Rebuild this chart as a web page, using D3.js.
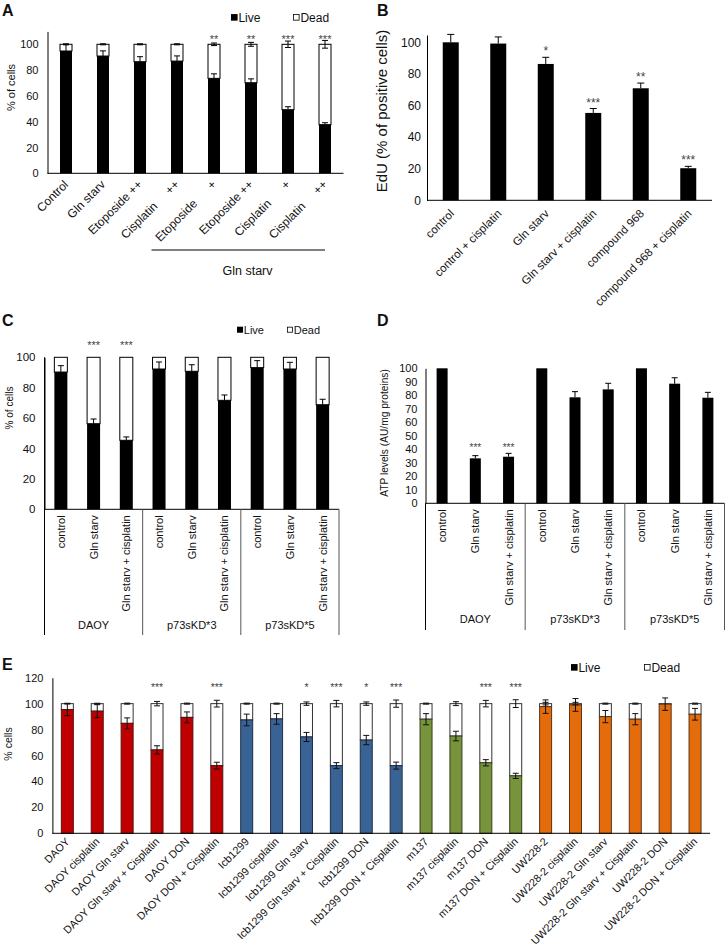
<!DOCTYPE html>
<html><head><meta charset="utf-8">
<script src="https://cdn.jsdelivr.net/npm/d3@7"></script>
<style>
body{margin:0;background:#fff;}
svg text{font-family:"Liberation Sans",Arial,Helvetica,sans-serif;fill:#111;}
svg text.star{fill:#444;}
</style></head><body>
<script>
// ---------- DATA ----------
// Panel A
const aCategories = ["Control","Gln starv","Etoposide ++","Cisplatin     ++","Etoposide      +","Etoposide ++","Cisplatin      +","Cisplatin     ++"];
const aLive = [94.8,90.9,86.5,87,73.6,70.2,49.3,37.7];
const aLiveErr = [5,4,3.9,4,3.5,3,2.3,1.5];
const aDeadErr = [0.4,0.4,0.4,0.4,1,1.5,2.5,3];
const aStars = ["","","","","**","**","***","***"];
const aGroupLabel = "Gln starv";
const aLegend = ["Live","Dead"];
const aTicks = [0,20,40,60,80,100];

// Panel B
const bCategories = ["control","control + cisplatin","Gln starv","Gln starv + cisplatin","compound 968","compound 968 + cisplatin"];
const bValues = [100,99.2,86.3,55.3,70.9,20.3];
const bErr = [5,4.2,4.2,2.8,3.3,1.2];
const bStars = ["","","*","***","**","***"];
const bTicks = [0,20,40,60,80,100];

// Panel C
const cCategories = ["control","Gln starv","Gln starv + cisplatin","control","Gln starv","Gln starv + cisplatin","control","Gln starv","Gln starv + cisplatin"];
const cGroups = ["DAOY","p73sKD*3","p73sKD*5"];
const cLive = [90.3,56.3,45.4,92.3,90.8,71.7,93.2,92.3,68.8];
const cLiveErr = [4.2,3.1,2.2,4.6,4.3,3.5,4.6,4.4,3.6];
const cStars = ["","***","***","","","","","",""];
const cTicks = [0,20,40,60,80,100];

// Panel D
const dCategories = ["control","Gln starv","Gln starv + cisplatin","control","Gln starv","Gln starv + cisplatin","control","Gln starv","Gln starv + cisplatin"];
const dGroups = ["DAOY","p73sKD*3","p73sKD*5"];
const dValues = [100,33.3,34.5,100,78.5,84.4,100,88.6,78.2];
const dErr = [0,2,2.5,0,4.2,4.5,0,4.4,4];
const dStars = ["","***","***","","","","","",""];
const dTicks = [0,10,20,30,40,50,60,70,80,90,100];

// Panel E
const eCategories = ["DAOY","DAOY cisplatin","DAOY Gln starv","DAOY Gln starv + Cisplatin","DAOY DON","DAOY DON + Cisplatin",
  "Icb1299","Icb1299 cisplatin","Icb1299 Gln starv","Icb1299 Gln starv + Cisplatin","Icb1299 DON","Icb1299 DON + Cisplatin",
  "m137","m137 cisplatin","m137 DON","m137 DON + Cisplatin",
  "UW228-2","UW228-2 cisplatin","UW228-2 Gln starv","UW228-2 Gln starv + Cisplatin","UW228-2 DON","UW228-2 DON + Cisplatin"];
const eCellLine = ["DAOY","DAOY","DAOY","DAOY","DAOY","DAOY","Icb1299","Icb1299","Icb1299","Icb1299","Icb1299","Icb1299",
  "m137","m137","m137","m137","UW228-2","UW228-2","UW228-2","UW228-2","UW228-2","UW228-2"];
const eLive = [95.4,94.2,84.8,64.3,89.4,52.2,87.4,88.2,74.3,52.2,71.9,52.2,88,75,54.4,44.3,97.7,99,90,88,99.6,91.8];
const eLiveErr = [4.7,5,4.2,3.2,4.2,2.6,4.5,4.1,3.5,2.3,3.6,2.7,4.3,3.7,2.4,2,5.2,4.9,4.7,4.3,4.8,4.5];
const eDeadErr = [0.3,0.3,0.4,1.7,0.4,2.6,0.4,0.4,1.3,2.5,1.3,2.8,0.4,1.5,2.5,3,1,1,0.4,0.4,0,0.4];
const eStars = ["","","","***","","***","","","*","***","*","***","","","***","***","","","","","",""];
const eTicks = [0,20,40,60,80,100,120];

// ---------- STYLE ----------
const lineColors = {"DAOY":"#C00000","Icb1299":"#3A6395","m137":"#77933C","UW228-2":"#E46C0A"};
const lineStrokes = {"DAOY":"#5a1010","Icb1299":"#1f2f45","m137":"#33401c","UW228-2":"#5a3418"};

const svg = d3.select("body").append("svg").attr("width",725).attr("height",950);

function panelLabel(t,x,y){
  svg.append("text").attr("x",x).attr("y",y).attr("font-size",16).attr("font-weight","bold").text(t);
}
function yAxis(g,y,x0,ticks,fs,pad){
  const ax = d3.axisLeft(y).tickValues(ticks).tickSize(0).tickSizeOuter(0).tickPadding(pad);
  const gg = g.append("g").attr("transform",`translate(${x0},0)`).call(ax);
  gg.attr("font-family",null).attr("font-size",null);
  gg.select(".domain").attr("stroke","#000");
  gg.selectAll(".tick text").attr("font-size",fs).attr("fill","#222");
  return gg;
}
function yTitle(g,t,x,y,fs){
  g.append("text").attr("transform",`translate(${x},${y}) rotate(-90)`).attr("text-anchor","middle").attr("font-size",fs).text(t);
}
function hline(g,x1,x2,y,c){ g.append("line").attr("x1",x1).attr("x2",x2).attr("y1",y).attr("y2",y).attr("stroke",c||"#000"); }
function vline(g,x,y1,y2,c){ g.append("line").attr("x1",x).attr("x2",x).attr("y1",y1).attr("y2",y2).attr("stroke",c||"#000"); }
function errBar(g,cx,yLo,yHi,capW,both,col){
  vline(g,cx,yLo,yHi,col);
  hline(g,cx-capW/2,cx+capW/2,yHi,col);
  if(both) hline(g,cx-capW/2,cx+capW/2,yLo,col);
}
function star(g,cx,y,fs,t){
  g.append("text").attr("class","star").attr("transform",`translate(${cx},${y}) rotate(0.01)`)
    .attr("text-anchor","middle").attr("font-size",fs).text(t);
}
function xLabels(g,x,cats,baseY,angle,dx,dy,fs){
  g.selectAll(null).data(cats).enter().append("text")
    .attr("transform",(d,i)=>`translate(${x(i)+x.bandwidth()/2+dx},${baseY+dy}) rotate(${angle})`)
    .attr("text-anchor","end").attr("font-size",fs)
    .attr("xml:space","preserve").style("white-space","pre")
    .text(d=>d);
}
function legend(g,x,y,fs,gap){
  g.append("rect").attr("x",x).attr("y",y-fs*0.62).attr("width",fs*0.55).attr("height",fs*0.55).attr("fill","#000");
  g.append("text").attr("x",x+fs*0.62).attr("y",y).attr("font-size",fs).text(aLegend[0]);
  g.append("rect").attr("x",x+gap+0.5).attr("y",y-fs*0.62+0.5).attr("width",fs*0.55-1).attr("height",fs*0.55-1).attr("fill","#fff").attr("stroke","#000").attr("stroke-width",0.8);
  g.append("text").attr("x",x+gap+fs*0.62).attr("y",y).attr("font-size",fs).text(aLegend[1]);
}

// ---------- PANEL A ----------
{
  const g = svg.append("g");
  const x = d3.scaleBand().domain(d3.range(aCategories.length)).range([47.5,343.5]);
  const y = d3.scaleLinear().domain([0,110]).range([173.3,31.4]);
  const bw = 12;
  aCategories.forEach((c,i)=>{
    const cx = x(i)+x.bandwidth()/2;
    g.append("rect").attr("x",cx-bw/2).attr("y",y(100)).attr("width",bw).attr("height",y(aLive[i])-y(100)).attr("fill","#fff").attr("stroke","#000").attr("stroke-width",1);
    g.append("rect").attr("x",cx-bw/2).attr("y",y(aLive[i])).attr("width",bw).attr("height",y(0)-y(aLive[i])).attr("fill","#000");
    errBar(g,cx,y(aLive[i]),y(aLive[i]+aLiveErr[i]),6,false);
    errBar(g,cx,y(100-aDeadErr[i]),y(100+aDeadErr[i]),6,true);
    if(aStars[i]) star(g,cx,y(105.9)+6,11,aStars[i]);
  });
  yAxis(g,y,47.5,aTicks,11,9);
  hline(g,47.5,343.5,y(0));
  xLabels(g,x,aCategories,y(0),-45,3,12,12);
  hline(g,x(3)-7,x(7)+x.bandwidth()/2,250);
  g.append("text").attr("x",(x(3)-7+x(7)+x.bandwidth())/2).attr("y",275).attr("text-anchor","middle").attr("font-size",12.5).text(aGroupLabel);
  yTitle(g,"% of cells",15,87.5,11);
  legend(g,231,21.5,12,62);
  panelLabel("A",2,16);
}

// ---------- PANEL B ----------
{
  const g = svg.append("g");
  const x = d3.scaleBand().domain(d3.range(bCategories.length)).range([427,712]);
  const y = d3.scaleLinear().domain([0,100]).range([200.3,42.3]);
  const bw = 16;
  bCategories.forEach((c,i)=>{
    const cx = x(i)+x.bandwidth()/2;
    g.append("rect").attr("x",cx-bw/2).attr("y",y(bValues[i])).attr("width",bw).attr("height",y(0)-y(bValues[i])).attr("fill","#000");
    errBar(g,cx,y(bValues[i]),y(bValues[i]+bErr[i]),7,false);
    if(bStars[i]) star(g,cx,y(bValues[i]+bErr[i])-2,12,bStars[i]);
  });
  const yAx = d3.scaleLinear().domain([0,104.6]).range([200.3,35]);
  yAxis(g,yAx,427,bTicks,12,6);
  hline(g,427,712,y(0));
  xLabels(g,x,bCategories,y(0),-45,4,14,11.5);
  yTitle(g,"EdU (% of positive cells)",387,111,15);
  panelLabel("B",377,16);
}

// ---------- PANEL C ----------
{
  const g = svg.append("g");
  const x = d3.scaleBand().domain(d3.range(cCategories.length)).range([44.5,339]);
  const y = d3.scaleLinear().domain([0,100]).range([509.3,357.3]);
  const bw = 13;
  cCategories.forEach((c,i)=>{
    const cx = x(i)+x.bandwidth()/2;
    g.append("rect").attr("x",cx-bw/2).attr("y",y(100)).attr("width",bw).attr("height",y(cLive[i])-y(100)).attr("fill","#fff").attr("stroke","#000");
    g.append("rect").attr("x",cx-bw/2).attr("y",y(cLive[i])).attr("width",bw).attr("height",y(0)-y(cLive[i])).attr("fill","#000");
    errBar(g,cx,y(cLive[i]),y(cLive[i]+cLiveErr[i]),6,false);
    if(cStars[i]) star(g,cx,y(109.4)+6,11,cStars[i]);
  });
  yAxis(g,y,44.5,cTicks,11.5,9);
  hline(g,44.5,339,y(0));
  [0,3,6,9].forEach(k=>{ const xx = k<9 ? x(k) : 339; vline(g,xx,k==0?y(100):y(0),635,k==0?"#000":"#555"); });
  xLabels(g,x,cCategories,y(0),-90,4,6,11);
  cGroups.forEach((t,k)=>{
    g.append("text").attr("x",(x(k*3)+x(k*3+2)+x.bandwidth())/2).attr("y",629).attr("text-anchor","middle").attr("font-size",11).text(t);
  });
  yTitle(g,"% of cells",13,408,10);
  legend(g,237,333.5,11,50);
  panelLabel("C",2,326);
}

// ---------- PANEL D ----------
{
  const g = svg.append("g");
  const x = d3.scaleBand().domain(d3.range(dCategories.length)).range([425.5,724.5]);
  const y = d3.scaleLinear().domain([0,100]).range([503.3,368.3]);
  const bw = 11;
  dCategories.forEach((c,i)=>{
    const cx = x(i)+x.bandwidth()/2;
    g.append("rect").attr("x",cx-bw/2).attr("y",y(dValues[i])).attr("width",bw).attr("height",y(0)-y(dValues[i])).attr("fill","#000");
    if(dErr[i]>0) errBar(g,cx,y(dValues[i]),y(dValues[i]+dErr[i]),6,false);
    if(dStars[i]) star(g,cx,y(43.2)+6,10,dStars[i]);
  });
  yAxis(g,y,425.5,dTicks,11,8);
  hline(g,425.5,724.5,y(0));
  [0,3,6,9].forEach(k=>{ const xx = k<9 ? x(k) : 724.5; vline(g,xx,y(0),630,k==0?"#000":"#555"); });
  xLabels(g,x,dCategories,y(0),-90,4,6,11);
  dGroups.forEach((t,k)=>{
    g.append("text").attr("x",(x(k*3)+x(k*3+2)+x.bandwidth())/2).attr("y",623).attr("text-anchor","middle").attr("font-size",11).text(t);
  });
  yTitle(g,"ATP levels (AU/mg proteins)",388,433,10.2);
  panelLabel("D",377,326);
}

// ---------- PANEL E ----------
{
  const g = svg.append("g");
  const x = d3.scaleBand().domain(d3.range(eCategories.length)).range([52.4,710]);
  const y = d3.scaleLinear().domain([0,120]).range([833.3,677.7]);
  const bw = 12;
  eCategories.forEach((c,i)=>{
    const cx = x(i)+x.bandwidth()/2;
    g.append("rect").attr("x",cx-bw/2).attr("y",y(100)).attr("width",bw).attr("height",y(eLive[i])-y(100)).attr("fill","#fff").attr("stroke","#333");
    g.append("rect").attr("x",cx-bw/2).attr("y",y(eLive[i])).attr("width",bw).attr("height",y(0)-y(eLive[i]))
      .attr("fill",lineColors[eCellLine[i]]).attr("stroke",lineStrokes[eCellLine[i]]);
    errBar(g,cx,y(eLive[i]-eLiveErr[i]),y(eLive[i]+eLiveErr[i]),6,true,"#111");
    if(eDeadErr[i]>0) errBar(g,cx,y(100-eDeadErr[i]),y(100+eDeadErr[i]),6,true,"#111");
    if(eStars[i]) star(g,cx,y(114.3)+6,10.5,eStars[i]);
  });
  yAxis(g,y,52.4,eTicks,11,9);
  hline(g,52.4,710,y(0));
  xLabels(g,x,eCategories,y(0),-45,3,9,10.8);
  yTitle(g,"% cells",12,744,10.5);
  legend(g,571,671.5,12,73);
  panelLabel("E",2,670);
}
</script>
</body></html>
